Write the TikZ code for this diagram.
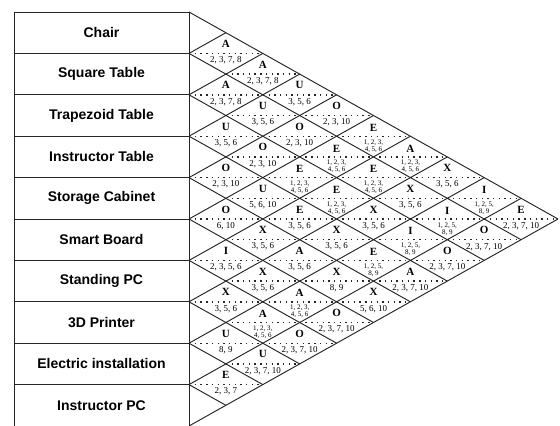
\documentclass[tikz,border=0pt]{standalone}
\usepackage{fontspec}
\setmainfont{Liberation Serif}
\newfontfamily\boxfont{Liberation Sans}
\usetikzlibrary{positioning}
\definecolor{RelLine}{HTML}{262626}
\newcommand{\rowh}{41.4}
\newcommand{\halfw}{36.9}

\begin{document}
\begin{tikzpicture}[x=1pt,y=-1pt,
  node distance=0pt,
  rowbox/.style={draw=RelLine,line width=0.8pt,minimum width=175pt,minimum height=41.4pt,
               inner sep=0pt,outer sep=0pt,font=\boxfont\bfseries\fontsize{14}{16}\selectfont},
  chartline/.style={draw=RelLine,line width=0.95pt},
  dotline/.style={draw=RelLine,line width=1.4pt,dash pattern=on 1.4pt off 4.3pt},
  relletter/.style={font=\bfseries\fontsize{11}{12}\selectfont,inner sep=0pt},
  relwhy/.style={font=\fontsize{9}{10}\selectfont,inner sep=0pt},
  relwhytwo/.style={font=\fontsize{7}{7}\selectfont,inner sep=0pt,align=center}
]
\useasboundingbox (0,0) rectangle (560,426);
% activity boxes
\node[rowbox] (r1) at (101.5,32.7) {Chair};
\node[rowbox,below=of r1] (r2) {Square Table};
\node[rowbox,below=of r2] (r3) {Trapezoid Table};
\node[rowbox,below=of r3] (r4) {Instructor Table};
\node[rowbox,below=of r4] (r5) {Storage Cabinet};
\node[rowbox,below=of r5] (r6) {Smart Board};
\node[rowbox,below=of r6] (r7) {Standing PC};
\node[rowbox,below=of r7] (r8) {3D Printer};
\node[rowbox,below=of r8] (r9) {Electric installation};
\node[rowbox,below=of r9] (r10) {Instructor PC};
% diagonal grid
\draw[chartline] (r1.north east) -- ++({10*\halfw},{5*\rowh});
\foreach \k in {1,...,9}{\draw[chartline] (r\k.south east) -- ++({(10-\k)*\halfw},{(10-\k)*\rowh/2});}
\foreach \k in {1,...,10}{\draw[chartline] (r\k.south east) -- ++({\k*\halfw},{-\k*\rowh/2});}
% ratings with one line of reasons
\foreach \i/\j/\rel/\why in {1/2/A/{2, 3, 7, 8},2/3/A/{2, 3, 7, 8},3/4/U/{3, 5, 6},4/5/O/{2, 3, 10},
    5/6/O/{6, 10},6/7/I/{2, 3, 5, 6},7/8/X/{3, 5, 6},8/9/U/{8, 9},9/10/E/{2, 3, 7},
    1/3/A/{2, 3, 7, 8},2/4/U/{3, 5, 6},3/5/O/{2, 3, 10},4/6/U/{5, 6, 10},5/7/X/{3, 5, 6},
    6/8/X/{3, 5, 6},8/10/U/{2, 3, 7, 10},1/4/U/{3, 5, 6},2/5/O/{2, 3, 10},4/7/E/{3, 5, 6},
    5/8/A/{3, 5, 6},7/10/O/{2, 3, 7, 10},1/5/O/{2, 3, 10},4/8/X/{3, 5, 6},5/9/X/{8, 9},
    6/10/O/{2, 3, 7, 10},3/8/X/{3, 5, 6},5/10/X/{5, 6, 10},2/8/X/{3, 5, 6},4/10/A/{2, 3, 7, 10},
    1/8/X/{3, 5, 6},3/10/O/{2, 3, 7, 10},2/10/O/{2, 3, 7, 10},1/10/E/{2, 3, 7, 10}}{
  \draw[dotline] ({189+(\j-\i-1)*\halfw},{12+\rowh*(\i+\j-1)/2}) -- ++({2*\halfw},0);
  \node[relletter] (a\i-\j) at ({189+(\j-\i)*\halfw},{12+\rowh*(\i+\j-1)/2-9.5}) {\rel};
  \node[relwhy] (w\i-\j) at ({189+(\j-\i)*\halfw},{12+\rowh*(\i+\j-1)/2+7}) {\why};
}
% ratings with two lines of reasons
\foreach \i/\j/\rel/\whya/\whyb in {7/9/A/{1, 2, 3,}/{4, 5, 6},3/6/E/{1, 2, 3,}/{4, 5, 6},
    6/9/A/{1, 2, 3,}/{4, 5, 6},2/6/E/{1, 2, 3,}/{4, 5, 6},3/7/E/{1, 2, 3,}/{4, 5, 6},
    1/6/E/{1, 2, 3,}/{4, 5, 6},2/7/E/{1, 2, 3,}/{4, 5, 6},1/7/A/{1, 2, 3,}/{4, 5, 6},
    4/9/E/{1, 2, 5,}/{8, 9},3/9/I/{1, 2, 5,}/{8, 9},2/9/I/{1, 2, 5,}/{8, 9},1/9/I/{1, 2, 5,}/{8, 9}}{
  \draw[dotline] ({189+(\j-\i-1)*\halfw},{12+\rowh*(\i+\j-1)/2}) -- ++({2*\halfw},0);
  \node[relletter] (a\i-\j) at ({189+(\j-\i)*\halfw},{12+\rowh*(\i+\j-1)/2-8.5}) {\rel};
  \node[relwhytwo] (w\i-\j) at ({189+(\j-\i)*\halfw},{12+\rowh*(\i+\j-1)/2+9.8}) {\whya\\\whyb};
}
\end{tikzpicture}
\end{document}
